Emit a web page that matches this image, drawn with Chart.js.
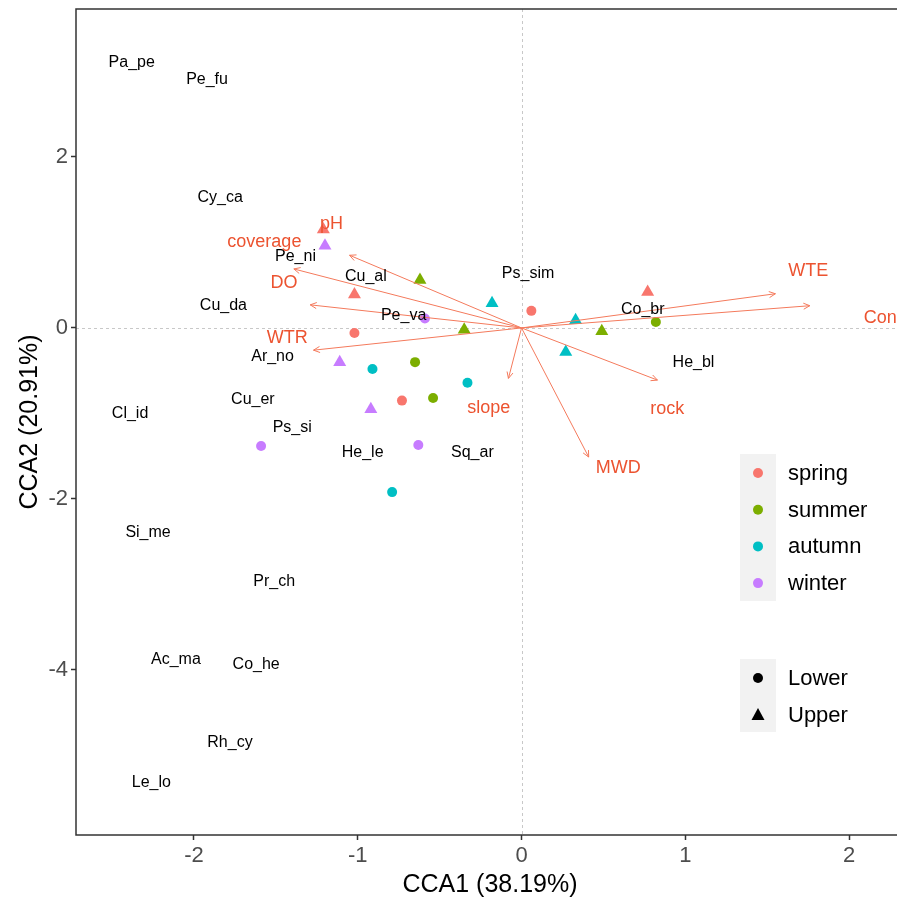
<!DOCTYPE html>
<html>
<head>
<meta charset="utf-8">
<script src="https://cdn.jsdelivr.net/npm/chart.js@4.4.0/dist/chart.umd.min.js"></script>
<style>
  html, body { margin: 0; padding: 0; background: #fff; overflow: hidden; }
  #wrap { width: 904px; height: 902px; overflow: hidden; }
  #chartContainer { width: 904px; height: 902px; }
</style>
</head>
<body>
<div id="wrap"><canvas id="chartContainer" width="904" height="902"></canvas></div>
<script>
// site scores (CCA1, CCA2), season and stream zone
const seasons = ['spring', 'summer', 'autumn', 'winter'];
const zones = ['Lower', 'Upper'];
const siteSeason = [
    'spring', 'spring', 'spring', 'spring', 'spring', 'spring',
    'summer', 'summer', 'summer', 'summer', 'summer', 'summer',
    'autumn', 'autumn', 'autumn', 'autumn', 'autumn', 'autumn',
    'winter', 'winter', 'winter', 'winter', 'winter', 'winter'
];
const siteZone = [
    'Upper', 'Upper', 'Upper', 'Lower', 'Lower', 'Lower',
    'Upper', 'Upper', 'Upper', 'Lower', 'Lower', 'Lower',
    'Upper', 'Upper', 'Upper', 'Lower', 'Lower', 'Lower',
    'Upper', 'Upper', 'Upper', 'Lower', 'Lower', 'Lower'
];
const siteCCA1 = [
    -1.21, -1.02, 0.77, -1.02, 0.06, -0.73,
    -0.62, -0.35, 0.49, -0.65, -0.54, 0.82,
    -0.18, 0.33, 0.27, -0.91, -0.33, -0.79,
    -1.20, -1.11, -0.92, -0.59, -1.59, -0.63
];
const siteCCA2 = [
    1.15, 0.39, 0.42, -0.06, 0.20, -0.85,
    0.56, -0.02, -0.04, -0.40, -0.82, 0.07,
    0.29, 0.09, -0.28, -0.48, -0.64, -1.92,
    0.96, -0.40, -0.95, 0.11, -1.38, -1.37
];

// species scores
const speciesNames = ['Pa_pe', 'Pe_fu', 'Cy_ca', 'Pe_ni', 'Cu_al', 'Cu_da', 'Pe_va', 'Ps_sim', 'Co_br', 'He_bl',
    'Ar_no', 'Cu_er', 'Ps_si', 'He_le', 'Sq_ar', 'Cl_id', 'Si_me', 'Pr_ch', 'Ac_ma', 'Co_he', 'Rh_cy', 'Le_lo'];
const speciesCCA1 = [-2.38, -1.92, -1.84, -1.38, -0.95, -1.82, -0.72, 0.04, 0.74, 1.05,
    -1.52, -1.64, -1.40, -0.97, -0.30, -2.39, -2.28, -1.51, -2.11, -1.62, -1.78, -2.26];
const speciesCCA2 = [3.10, 2.90, 1.53, 0.84, 0.60, 0.26, 0.15, 0.64, 0.22, -0.41,
    -0.33, -0.84, -1.17, -1.46, -1.46, -1.00, -2.39, -2.97, -3.88, -3.94, -4.85, -5.32];

// environmental vectors (arrow tips) and label positions
const envNames = ['pH', 'coverage', 'DO', 'WTR', 'WTE', 'Cond', 'rock', 'slope', 'MWD'];
const envCCA1 = [-1.05, -1.39, -1.29, -1.27, 1.55, 1.76, 0.83, -0.08, 0.41];
const envCCA2 = [0.85, 0.69, 0.27, -0.26, 0.40, 0.26, -0.61, -0.59, -1.51];
const envLabelCCA1 = [-1.16, -1.57, -1.45, -1.43, 1.75, 2.22, 0.89, -0.20, 0.59];
const envLabelCCA2 = [1.22, 1.00, 0.52, -0.12, 0.66, 0.12, -0.95, -0.94, -1.64];

// axis ticks
const xTicks = [-2, -1, 0, 1, 2];
const yTicks = [2, 0, -2, -4];

const FONT = 'Arial, "Liberation Sans", sans-serif';
const seasonColors = { spring: '#F8766D', summer: '#7CAE00', autumn: '#00BFC4', winter: '#C77CFF' };
const arrowColor = '#F47A5C';
const envTextColor = '#EC5330';

// build datasets
const datasets = [];
envNames.forEach((name, i) => {
    datasets.push({
        label: name,
        data: [{ x: 0, y: 0 }, { x: envCCA1[i], y: envCCA2[i] }],
        showLine: true,
        borderColor: arrowColor,
        borderWidth: 1,
        pointRadius: 0,
        pointHoverRadius: 0
    });
});
seasons.forEach(season => {
    const idx = siteSeason.map((s, i) => s === season ? i : -1).filter(i => i >= 0);
    datasets.push({
        label: season,
        data: idx.map(i => ({ x: siteCCA1[i], y: siteCCA2[i] })),
        pointStyle: idx.map(i => siteZone[i] === 'Upper' ? 'triangle' : 'circle'),
        pointRadius: idx.map(i => siteZone[i] === 'Upper' ? 7.5 : 5),
        backgroundColor: seasonColors[season],
        borderColor: seasonColors[season],
        borderWidth: 0
    });
});

// fixed axis box, no label padding
function fixBox(s, size) {
    if (s.isHorizontal()) s.height = size; else s.width = size;
    s.paddingTop = 0; s.paddingBottom = 0; s.paddingLeft = 0; s.paddingRight = 0;
}

// Draw zero lines, arrowheads, labels, legends and frame
const overlay = {
    id: 'overlay',
    beforeDatasetsDraw(chart) {
        const { ctx, chartArea: a, scales: { x, y } } = chart;
        ctx.save();
        ctx.strokeStyle = '#C8C8C8';
        ctx.lineWidth = 1;
        ctx.setLineDash([3, 3]);
        const x0 = Math.round(x.getPixelForValue(0)) + 0.5;
        const y0 = Math.round(y.getPixelForValue(0)) + 0.5;
        ctx.beginPath();
        ctx.moveTo(x0, a.top); ctx.lineTo(x0, a.bottom);
        ctx.moveTo(a.left, y0); ctx.lineTo(a.right, y0);
        ctx.stroke();
        ctx.restore();
    },
    afterDatasetsDraw(chart) {
        const { ctx, chartArea: a, scales: { x, y } } = chart;
        ctx.save();

        // arrow heads
        ctx.strokeStyle = arrowColor;
        ctx.lineWidth = 1;
        const ox = x.getPixelForValue(0), oy = y.getPixelForValue(0);
        envNames.forEach((n, i) => {
            const tx = x.getPixelForValue(envCCA1[i]);
            const ty = y.getPixelForValue(envCCA2[i]);
            const ang = Math.atan2(ty - oy, tx - ox);
            const len = 7, spread = Math.PI / 7;
            ctx.beginPath();
            ctx.moveTo(tx - len * Math.cos(ang - spread), ty - len * Math.sin(ang - spread));
            ctx.lineTo(tx, ty);
            ctx.lineTo(tx - len * Math.cos(ang + spread), ty - len * Math.sin(ang + spread));
            ctx.stroke();
        });

        ctx.textAlign = 'center';
        ctx.textBaseline = 'middle';

        // species names
        ctx.fillStyle = '#000';
        ctx.font = '16px ' + FONT;
        speciesNames.forEach((n, i) => {
            ctx.fillText(n, x.getPixelForValue(speciesCCA1[i]), y.getPixelForValue(speciesCCA2[i]));
        });

        // environmental variable names
        ctx.fillStyle = envTextColor;
        ctx.font = '18px ' + FONT;
        envNames.forEach((n, i) => {
            ctx.fillText(n, x.getPixelForValue(envLabelCCA1[i]), y.getPixelForValue(envLabelCCA2[i]));
        });

        // frame
        ctx.strokeStyle = '#333';
        ctx.lineWidth = 1.5;
        ctx.strokeRect(a.left, a.top, a.right - a.left, a.bottom - a.top);

        // legends
        ctx.textAlign = 'left';
        ctx.font = '22px ' + FONT;
        ctx.fillStyle = '#F2F2F2';
        ctx.fillRect(740, 454, 36, 147);
        seasons.forEach((s, i) => {
            const cy = 473 + i * 36.7;
            ctx.fillStyle = seasonColors[s];
            ctx.beginPath();
            ctx.arc(758, cy, 5, 0, Math.PI * 2);
            ctx.fill();
            ctx.fillStyle = '#000';
            ctx.fillText(s, 788, cy + 1);
        });
        ctx.fillStyle = '#F2F2F2';
        ctx.fillRect(740, 659, 36, 73);
        ctx.fillStyle = '#000';
        ctx.beginPath();
        ctx.arc(758, 678, 5, 0, Math.PI * 2);
        ctx.fill();
        ctx.fillText(zones[0], 788, 679);
        ctx.beginPath();
        ctx.moveTo(758, 708); ctx.lineTo(764.5, 720); ctx.lineTo(751.5, 720);
        ctx.closePath();
        ctx.fill();
        ctx.fillText(zones[1], 788, 716);

        ctx.restore();
    }
};

new Chart(document.getElementById('chartContainer').getContext('2d'), {
    type: 'scatter',
    data: { datasets: datasets },
    options: {
        responsive: false,
        animation: false,
        events: [],
        layout: { autoPadding: false, padding: { top: 9, right: 0, left: 0, bottom: 0 } },
        plugins: { legend: { display: false }, tooltip: { enabled: false } },
        scales: {
            x: {
                type: 'linear',
                min: -2.72,
                max: 2.335,
                afterBuildTicks: s => { s.ticks = xTicks.map(v => ({ value: v })); },
                afterFit: s => fixBox(s, 67),
                grid: { drawOnChartArea: false, drawTicks: true, tickLength: 5, tickColor: '#333', tickWidth: 1.5 },
                border: { display: false },
                ticks: { color: '#4D4D4D', font: { size: 22, family: FONT }, padding: 3, maxRotation: 0 },
                title: { display: true, text: 'CCA1 (38.19%)', color: '#000', font: { size: 25, family: FONT }, padding: { top: 0, bottom: 2 } }
            },
            y: {
                type: 'linear',
                min: -5.93,
                max: 3.73,
                afterBuildTicks: s => { s.ticks = yTicks.map(v => ({ value: v })); },
                afterFit: s => fixBox(s, 76),
                grid: { drawOnChartArea: false, drawTicks: true, tickLength: 5, tickColor: '#333', tickWidth: 1.5 },
                border: { display: false },
                ticks: { color: '#4D4D4D', font: { size: 22, family: FONT }, padding: 3 },
                title: { display: true, text: 'CCA2 (20.91%)', color: '#000', font: { size: 25, family: FONT }, padding: { top: 15, bottom: 0 } }
            }
        }
    },
    plugins: [overlay]
});
</script>
</body>
</html>
